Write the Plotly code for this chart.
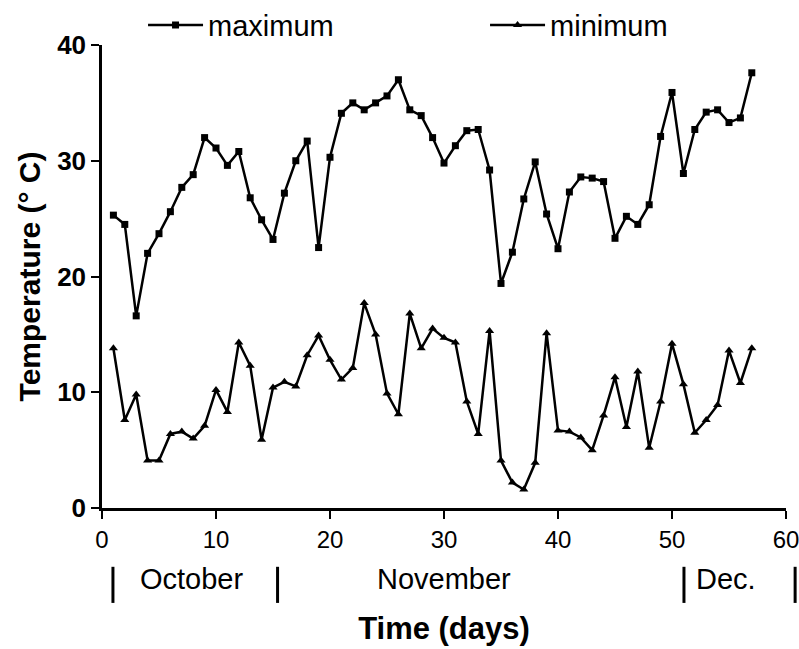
import plotly.graph_objects as go

days = list(range(1, 58))
t_max = [25.3, 24.5, 16.6, 22.0, 23.7, 25.6, 27.7, 28.8, 32.0, 31.1,
         29.6, 30.8, 26.8, 24.9, 23.2, 27.2, 30.0, 31.7, 22.5, 30.3,
         34.1, 35.0, 34.4, 35.0, 35.6, 37.0, 34.4, 33.9, 32.0, 29.8,
         31.3, 32.6, 32.7, 29.2, 19.4, 22.1, 26.7, 29.9, 25.4, 22.4,
         27.3, 28.6, 28.5, 28.2, 23.3, 25.2, 24.5, 26.2, 32.1, 35.9,
         28.9, 32.7, 34.2, 34.4, 33.3, 33.7, 37.6]
t_min = [13.8, 7.6, 9.8, 4.1, 4.1, 6.4, 6.6, 6.0, 7.1, 10.2,
         8.3, 14.3, 12.3, 5.9, 10.4, 10.9, 10.5, 13.2, 14.9, 12.8,
         11.1, 12.1, 17.7, 15.0, 9.9, 8.1, 16.8, 13.8, 15.5, 14.7,
         14.3, 9.2, 6.4, 15.3, 4.1, 2.2, 1.6, 3.9, 15.1, 6.7,
         6.6, 6.1, 5.0, 8.0, 11.3, 7.0, 11.8, 5.2, 9.2, 14.2,
         10.7, 6.5, 7.6, 8.9, 13.6, 10.8, 13.8]

x_ticks = [0, 10, 20, 30, 40, 50, 60]
y_ticks = [0, 10, 20, 30, 40]
month_names = ["October", "November", "Dec."]
month_label_x = [7.9, 30.0, 54.7]
month_bounds = [0.96, 15.4, 51.05, 60.8]
x_max = 60

font = "Liberation Sans, Arial, sans-serif"

fig = go.Figure()
fig.add_trace(go.Scatter(x=days, y=t_max, mode="lines+markers", name="maximum",
                         line=dict(color="black", width=2.5),
                         marker=dict(symbol="square", size=7, color="black"),
                         cliponaxis=False, legend="legend"))
fig.add_trace(go.Scatter(x=days, y=t_min, mode="lines+markers", name="minimum",
                         line=dict(color="black", width=2.5),
                         marker=dict(symbol="triangle-up", size=8, color="black"),
                         cliponaxis=False, legend="legend2"))

for name, xv in zip(month_names, month_label_x):
    fig.add_annotation(x=xv, y=-0.153, xref="x", yref="paper", text=name,
                       showarrow=False, yanchor="middle",
                       font=dict(family=font, size=29, color="black"))
for b in month_bounds:
    fig.add_shape(type="line", xref="paper", yref="paper", x0=b / x_max, x1=b / x_max,
                  y0=-0.127, y1=-0.205, line=dict(color="black", width=3))

legend_common = dict(orientation="h", y=1.043, xanchor="left", yanchor="middle",
                     font=dict(family=font, size=29, color="black"),
                     itemwidth=55, bgcolor="rgba(0,0,0,0)")

fig.update_layout(
    width=799, height=649,
    margin=dict(l=102, r=13, t=45, b=141, autoexpand=False),
    paper_bgcolor="white", plot_bgcolor="white",
    font=dict(family=font, color="black"),
    showlegend=True,
    legend=dict(x=0.06, **legend_common),
    legend2=dict(x=0.56, **legend_common),
    xaxis=dict(range=[0, x_max], tickvals=x_ticks, showgrid=False, zeroline=False,
               showline=True, linecolor="black", linewidth=2.5,
               ticks="outside", ticklen=8, tickwidth=2, tickcolor="black",
               ticklabeloverflow="allow",
               tickfont=dict(family=font, size=24, color="black"),
               title=dict(text="<b>Time (days)</b>", standoff=66,
                          font=dict(family=font, size=31, color="black"))),
    yaxis=dict(range=[0, 40], tickvals=y_ticks, showgrid=False, zeroline=False,
               showline=True, linecolor="black", linewidth=2.5,
               ticks="outside", ticklen=8, tickwidth=2, tickcolor="black",
               ticktext=[f"<b>{v}</b>" for v in y_ticks],
               tickfont=dict(family=font, size=26, color="black"),
               title=dict(text="<b>Temperature (° C)</b>", standoff=8,
                          font=dict(family=font, size=30, color="black"))),
)

fig.write_html("out.html",
               config={"displayModeBar": False},
               post_script="document.body.style.margin='0';"
                           "document.documentElement.style.overflow='hidden';")
